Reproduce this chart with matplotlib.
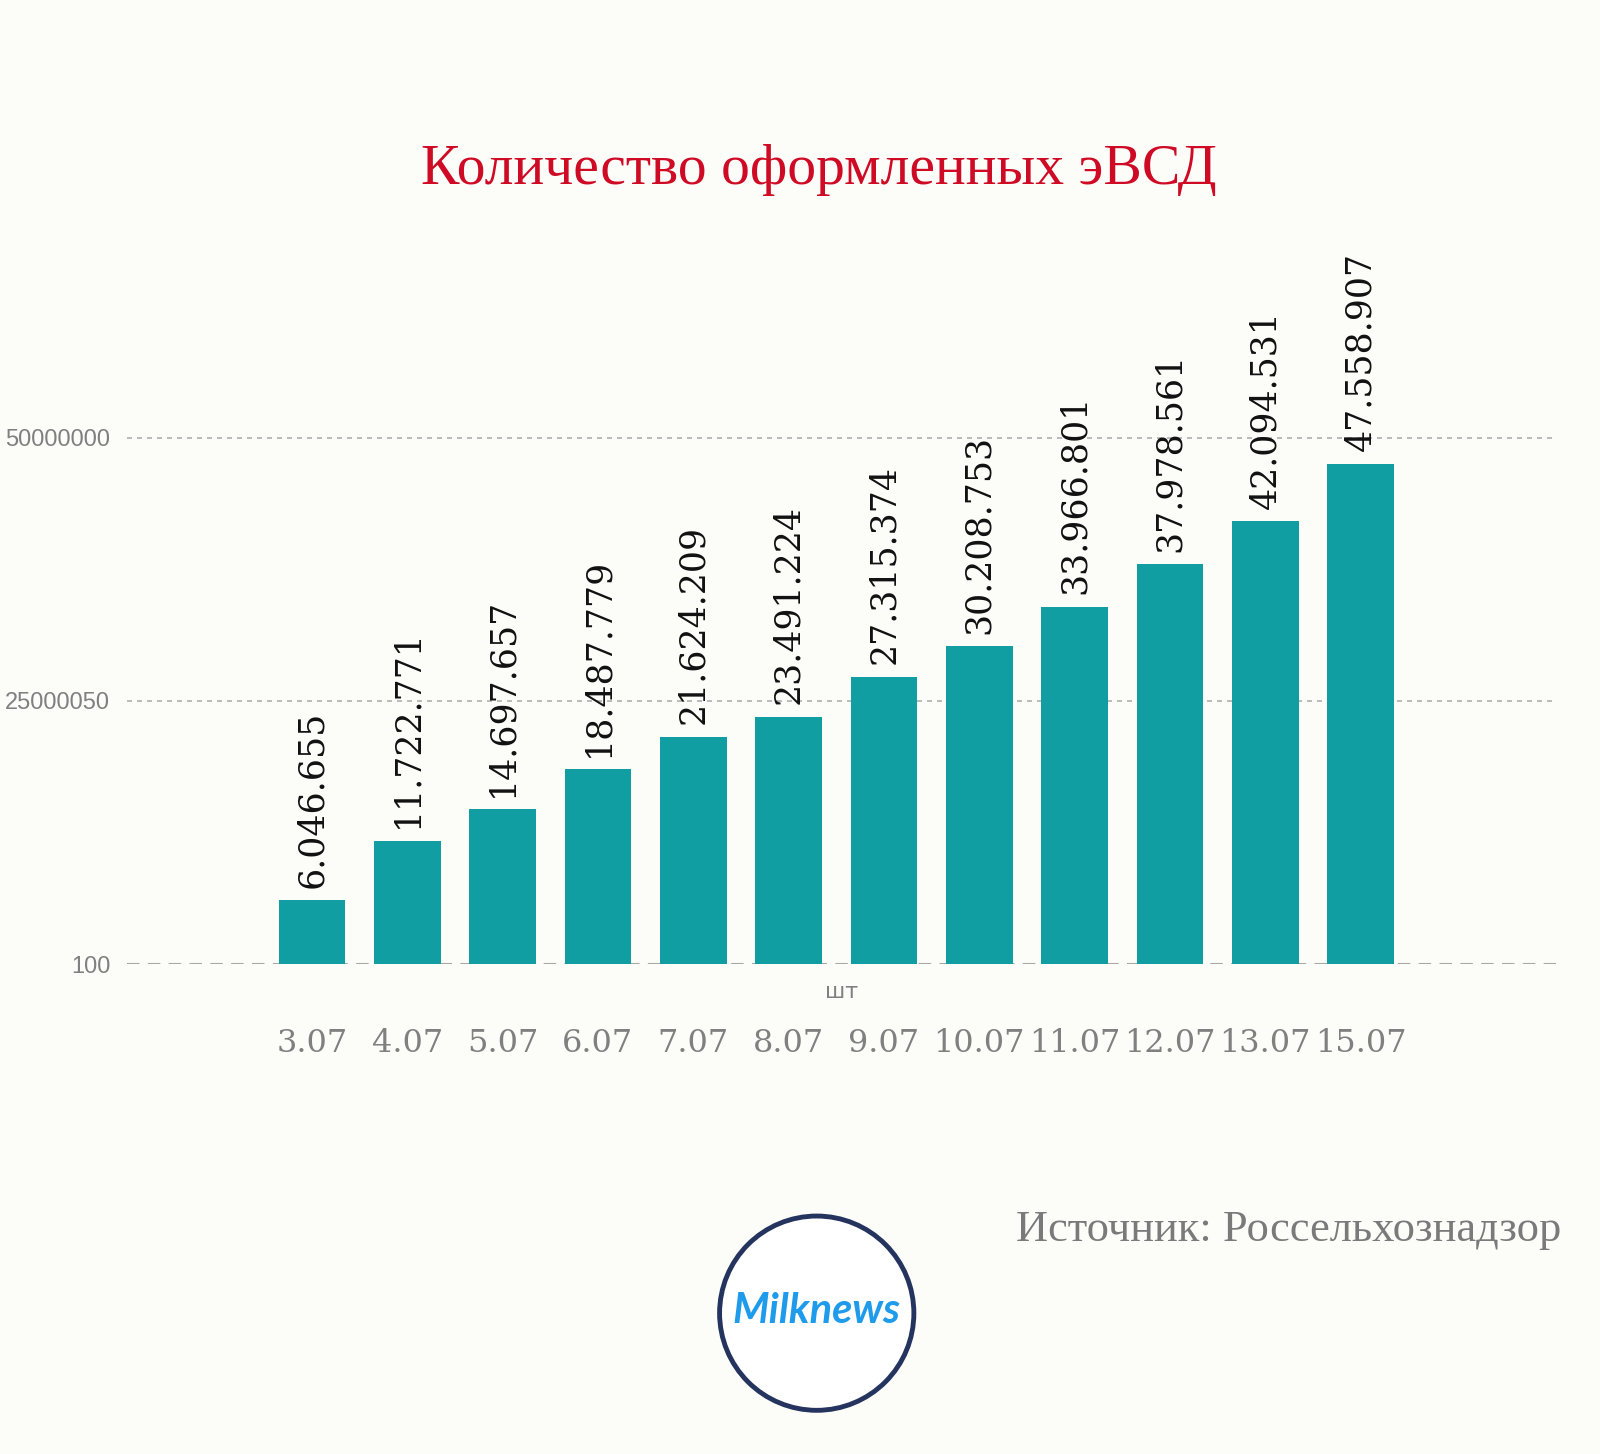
import matplotlib
matplotlib.use("Agg")
import matplotlib.pyplot as plt
from matplotlib.patches import Circle

dates = ["3.07", "4.07", "5.07", "6.07", "7.07", "8.07", "9.07",
         "10.07", "11.07", "12.07", "13.07", "15.07"]
values = [6046655, 11722771, 14697657, 18487779, 21624209, 23491224,
          27315374, 30208753, 33966801, 37978561, 42094531, 47558907]
yticks = [100, 25000050, 50000000]

BG = "#FCFCF9"
BAR = "#109EA3"
fig = plt.figure(figsize=(16, 14.54), dpi=100, facecolor=BG)
ax = fig.add_axes([0.0794, 0.337, 0.8931, 0.5065], facecolor=BG)

x = list(range(len(values)))
ax.bar(x, values, width=0.7, color=BAR, bottom=0, zorder=3)
ax.set_xlim(-1.94, 13.05)
ax.set_ylim(100, 7.0e7)

ax.set_yticks(yticks)
ax.set_yticklabels([str(t) for t in yticks], fontsize=17, color="#808080",
                   family="Liberation Sans")
ax.set_xticks(x)
ax.set_xticklabels(dates, fontsize=23, color="#808080", family="DejaVu Serif")
ax.tick_params(axis="both", length=0)
ax.tick_params(axis="y", pad=12)
ax.tick_params(axis="x", pad=46)
for s in ax.spines.values():
    s.set_visible(False)
ax.yaxis.grid(True, color="#B0B0B0", linewidth=1.2, linestyle=(0, (3, 3)), zorder=1)
gl = ax.get_ygridlines()
if gl:
    gl[0].set_linestyle((0, (6, 4)))
    gl[0].set_color("#A8A8A8")
    gl[0].set_linewidth(1.5)
ax.set_axisbelow(True)

for xi, v in zip(x, values):
    ax.annotate(f"{v:,}".replace(",", "."), (xi, v), xytext=(0, 9),
                textcoords="offset points", rotation=90, ha="center", va="bottom",
                fontsize=25, color="#111111", family="DejaVu Serif", zorder=4)

ax.text(0.5, -0.038, "шт", transform=ax.transAxes, ha="center", va="center",
        fontsize=16, color="#808080", family="DejaVu Sans")

fig.text(0.512, 0.883, "Количество оформленных эВСД", ha="center", va="center",
         fontsize=41.5, color="#CF0A25", family="Liberation Serif")
fig.text(0.976, 0.154, "Источник: Россельхознадзор", ha="right", va="center",
         fontsize=32, color="#7A7A7A", family="Liberation Serif")

# logo
lax = fig.add_axes([0.4467, 0.0267, 0.1275, 0.1403], facecolor="none")
lax.set_xlim(-1.05, 1.05)
lax.set_ylim(-1.05, 1.05)
lax.set_aspect("equal")
lax.axis("off")
lax.add_patch(Circle((0, 0), 1.0, facecolor="white", edgecolor="#25345F", linewidth=3.5))
lax.text(0, 0.02, "Milknews", ha="center", va="center", fontsize=30,
         color="#1E9BEA", family="Lato", style="italic", weight="bold")

fig.savefig("out.png", dpi=100, facecolor=BG)
